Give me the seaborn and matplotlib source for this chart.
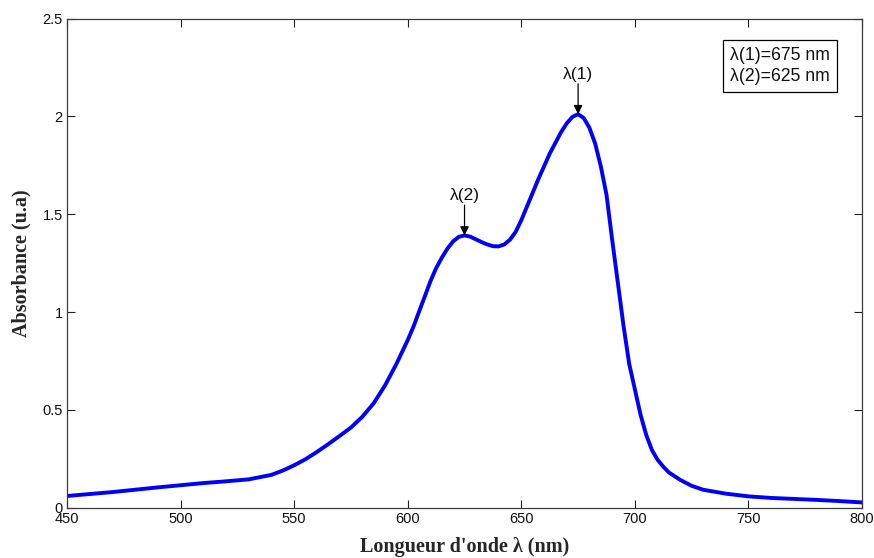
import numpy as np
import pandas as pd
import matplotlib
matplotlib.use("Agg")
import matplotlib.pyplot as plt
import seaborn as sns

# Absorption spectrum (wavelength in nm, absorbance in arbitrary units)
wavelength = [450, 460, 470, 480, 490, 500, 510, 520, 530, 540, 545, 550, 555,
              560, 565, 570, 575, 580, 585, 590, 595, 600, 602.5, 605, 607.5,
              610, 612.5, 615, 617.5, 620, 622.5, 625, 627.5, 630, 632.5, 635,
              637.5, 640, 642.5, 645, 647.5, 650, 652.5, 655, 657.5, 660,
              662.5, 665, 667.5, 670, 672.5, 675, 677.5, 680, 682.5, 685,
              687.5, 690, 692.5, 695, 697.5, 700, 702.5, 705, 707.5, 710,
              712.5, 715, 720, 725, 730, 740, 750, 760, 770, 780, 790, 800]
absorbance = [0.060, 0.070, 0.080, 0.092, 0.104, 0.115, 0.126, 0.135, 0.145,
              0.168, 0.190, 0.217, 0.248, 0.285, 0.325, 0.367, 0.410, 0.465,
              0.534, 0.625, 0.735, 0.857, 0.925, 1.003, 1.080, 1.158, 1.225,
              1.278, 1.325, 1.362, 1.385, 1.392, 1.386, 1.372, 1.358, 1.346,
              1.337, 1.336, 1.346, 1.370, 1.410, 1.470, 1.540, 1.610, 1.680,
              1.745, 1.810, 1.865, 1.920, 1.965, 1.998, 2.012, 1.992, 1.942,
              1.862, 1.745, 1.600, 1.370, 1.150, 0.930, 0.735, 0.605, 0.475,
              0.372, 0.295, 0.245, 0.210, 0.180, 0.142, 0.112, 0.092, 0.072,
              0.058, 0.050, 0.045, 0.040, 0.034, 0.027]

# Marked absorption maxima
peak_names = ["\u03bb(1)", "\u03bb(2)"]
peak_wavelengths = [675, 625]

x_ticks = [450, 500, 550, 600, 650, 700, 750, 800]
y_ticks = [0, 0.5, 1, 1.5, 2, 2.5]
y_tick_labels = ["0", "0.5", "1", "1.5", "2", "2.5"]

sns.set_theme(style="white")
plt.rcParams["font.family"] = ["Liberation Sans", "DejaVu Sans"]

df = pd.DataFrame({"wavelength": wavelength, "absorbance": absorbance})

fig = plt.figure(figsize=(8.74, 5.58), dpi=100)
ax = fig.add_axes([0.0767, 0.0901, 0.9096, 0.8764])

sns.lineplot(data=df, x="wavelength", y="absorbance", ax=ax,
             color="#0000ff", linewidth=2.8, sort=False, legend=False)

ax.set_xlim(450, 800)
ax.set_ylim(0, 2.5)
ax.set_xticks(x_ticks)
ax.set_xticklabels([str(t) for t in x_ticks])
ax.set_yticks(y_ticks)
ax.set_yticklabels(y_tick_labels)

for side in ["left", "right", "top", "bottom"]:
    ax.spines[side].set_visible(True)
    ax.spines[side].set_color("#3c3c3c")
    ax.spines[side].set_linewidth(0.9)

ax.tick_params(axis="both", which="major", direction="in", length=6,
               width=0.8, color="#222222", labelsize=10.5, labelcolor="#111111",
               top=True, right=True, bottom=True, left=True, pad=3)

ax.set_xlabel("Longueur d'onde \u03bb (nm)", fontsize=14.5, fontweight="bold",
              family=["Liberation Serif", "DejaVu Serif"], labelpad=8)
ax.set_ylabel("Absorbance (u.a)", fontsize=14.5, fontweight="bold",
              family=["Liberation Serif", "DejaVu Serif"], labelpad=8)

# Arrows pointing down onto each maximum
for name, wl in zip(peak_names, peak_wavelengths):
    peak_val = float(np.interp(wl, wavelength, absorbance))
    ax.annotate("", xy=(wl, peak_val), xytext=(wl, peak_val + 0.155),
                arrowprops=dict(arrowstyle="-|>", color="black", lw=0.9,
                                mutation_scale=13, shrinkA=0, shrinkB=0))
    ax.text(wl, peak_val + 0.165, name, ha="center", va="bottom",
            fontsize=12.5, color="#111111")

legend_text = "\n".join(f"{n}={w} nm" for n, w in zip(peak_names, peak_wavelengths))
ax.text(0.834, 0.942, legend_text, transform=ax.transAxes, ha="left", va="top",
        fontsize=12.7, color="#111111", linespacing=1.3,
        bbox=dict(boxstyle="square,pad=0.42", facecolor="white",
                  edgecolor="black", linewidth=0.9))

fig.savefig("out.png", dpi=100, facecolor="white")
